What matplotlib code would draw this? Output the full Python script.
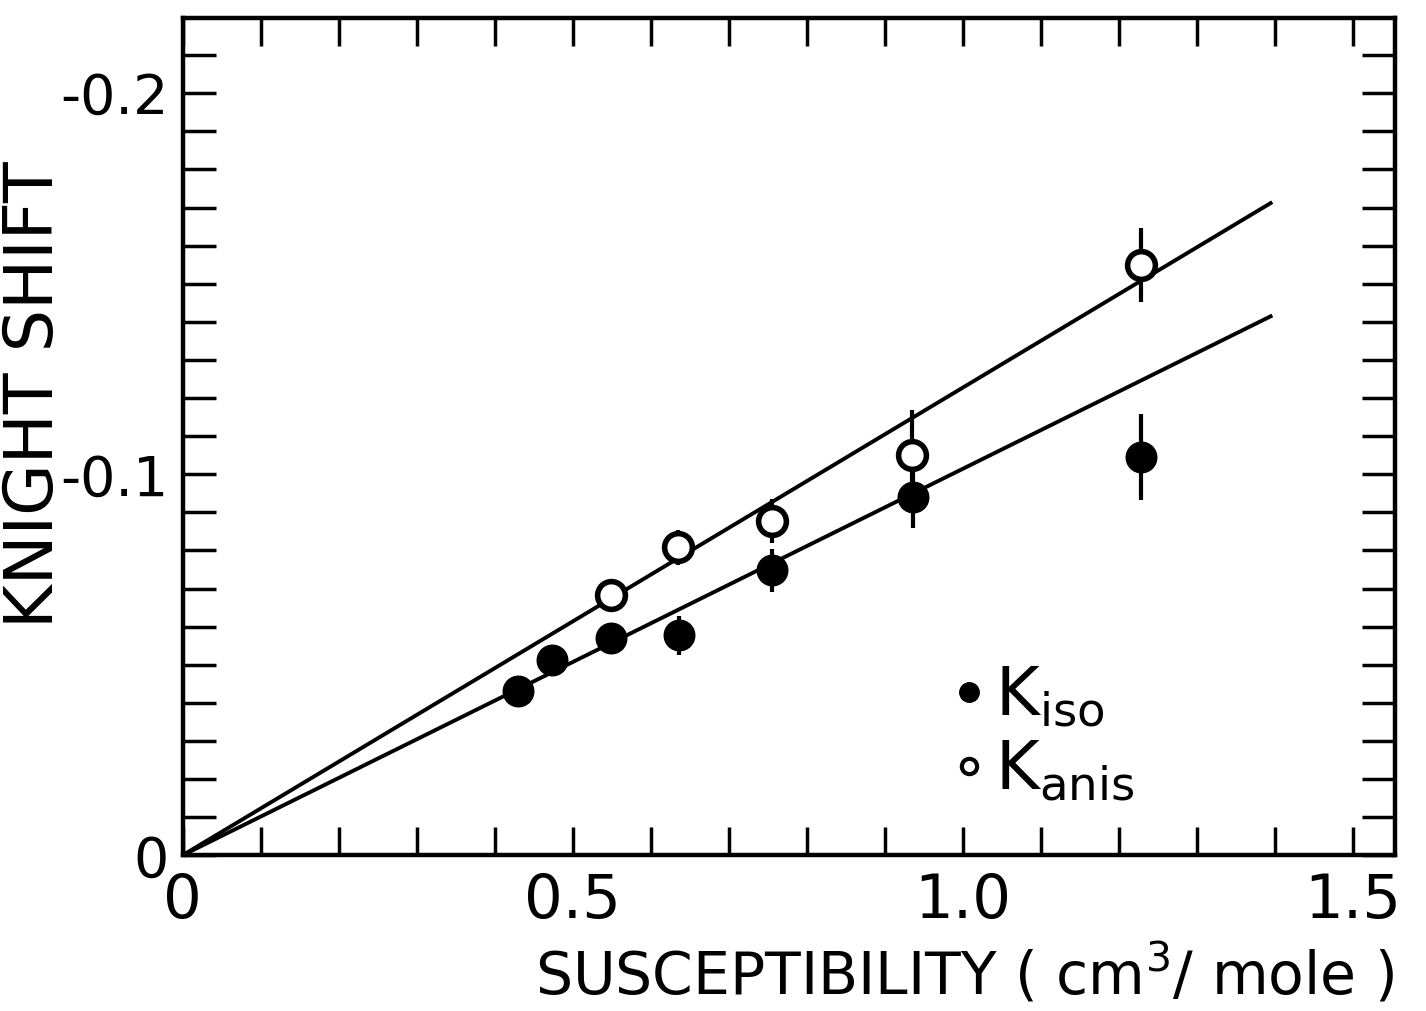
import matplotlib
matplotlib.use("Agg")
import matplotlib.pyplot as plt
import numpy as np
from matplotlib.lines import Line2D
from matplotlib.ticker import MultipleLocator, FixedLocator, FixedFormatter

plt.rcParams["font.family"] = ["DejaVu Sans"]
plt.rcParams["mathtext.fontset"] = "dejavusans"

# data (magnitude of the negative shift)
chi_iso = [0.43, 0.474, 0.549, 0.637, 0.756, 0.936, 1.229]
k_iso = [0.043, 0.0512, 0.057, 0.0577, 0.0748, 0.094, 0.1045]
err_iso = [0, 0, 0, 0.0052, 0.0056, 0.008, 0.0113]

chi_anis = [0.549, 0.635, 0.756, 0.935, 1.229]
k_anis = [0.0682, 0.0808, 0.0877, 0.105, 0.1549]
err_anis = [0, 0.0045, 0.0058, 0.012, 0.0097]

# fitted straight lines through the origin
line_x = [0.0, 1.395]
slope_anis = 0.1227
slope_iso = 0.1014

fig = plt.figure(figsize=(14.26, 10.11), dpi=100)
ax = fig.add_axes([0.128, 0.154, 0.85, 0.828])

lx = np.array(line_x)
ax.plot(lx, slope_anis * lx, color="black", lw=2.8)
ax.plot(lx, slope_iso * lx, color="black", lw=2.8)

ax.errorbar(chi_iso, k_iso, yerr=err_iso, fmt="o", color="black", ms=22,
            mfc="black", mec="black", elinewidth=3, capsize=0, zorder=3)
ax.errorbar(chi_anis, k_anis, yerr=err_anis, fmt="o", color="black", ms=20,
            mfc="white", mec="black", mew=4, elinewidth=3, capsize=0,
            zorder=4)

ax.set_xlim(0, 1.554)
ax.set_ylim(0, 0.2197)

ax.xaxis.set_major_locator(FixedLocator([0, 0.5, 1.0, 1.5]))
ax.xaxis.set_major_formatter(FixedFormatter(["0", "0.5", "1.0", "1.5"]))
ax.xaxis.set_minor_locator(MultipleLocator(0.1))
ax.yaxis.set_major_locator(FixedLocator([0, 0.1, 0.2]))
ax.yaxis.set_major_formatter(FixedFormatter(["0", "-0.1", "-0.2"]))
ax.yaxis.set_minor_locator(MultipleLocator(0.01))

ax.tick_params(which="both", direction="in", top=True, right=True,
               width=2.5)
ax.tick_params(axis="x", which="both", length=20, pad=12, labelsize=44)
ax.tick_params(axis="y", which="both", length=24, pad=10, labelsize=40)
for s in ax.spines.values():
    s.set_linewidth(3.2)

ax.set_ylabel("KNIGHT SHIFT", fontsize=48)
ax.yaxis.set_label_coords(-0.095, 0.55)
ax.set_xlabel(r"SUSCEPTIBILITY ( cm$^3$/ mole )", fontsize=42)
ax.xaxis.set_label_coords(0.645, -0.104)

handles = [
    Line2D([], [], ls="none", marker="o", ms=14, mfc="black", mec="black"),
    Line2D([], [], ls="none", marker="o", ms=11, mfc="white", mec="black",
           mew=3),
]
labels = [r"K$_{\rm iso}$", r"K$_{\rm anis}$"]
ax.legend(handles, labels, loc="lower left", bbox_to_anchor=(0.588, -0.01),
          frameon=False, fontsize=48, handlelength=0.4, handletextpad=0.2,
          labelspacing=0.12)

fig.savefig("out.png", dpi=100)
